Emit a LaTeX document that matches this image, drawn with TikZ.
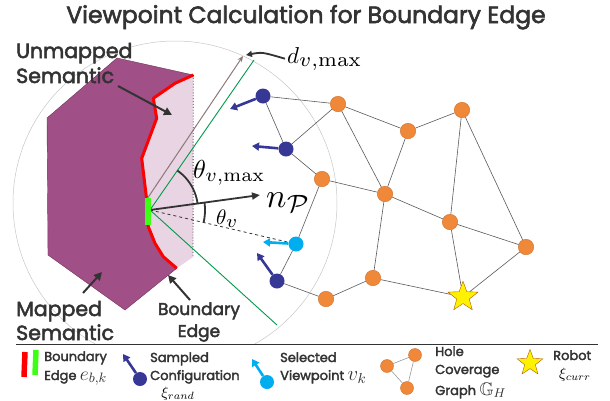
\RequirePackage{fix-cm}
\documentclass[tikz,border=0pt]{standalone}
\usepackage[no-math]{fontspec}
\setmainfont{Poppins}
\newfontfamily\heavy{Poppins}[FakeBold=2.5]
\usepackage{amssymb}
\usepackage{graphicx}
\usetikzlibrary{arrows.meta,shapes.geometric}
\definecolor{purp}{RGB}{161,79,135}
\definecolor{purpedge}{RGB}{110,50,90}
\definecolor{pinkl}{RGB}{232,212,226}
\definecolor{grn}{RGB}{0,155,75}
\definecolor{lgrn}{RGB}{60,255,20}
\definecolor{brn}{RGB}{140,120,118}
\definecolor{orng}{RGB}{240,136,58}
\definecolor{orngedge}{RGB}{210,110,40}
\definecolor{dblue}{RGB}{55,55,150}
\definecolor{lblue}{RGB}{0,174,239}
\definecolor{ystar}{RGB}{255,242,0}
\definecolor{txt}{RGB}{51,51,51}
\tikzset{
 onode/.style={circle, fill=orng, draw=orngedge, line width=0.4pt, minimum size=15.5pt, inner sep=0},
 bnode/.style={circle, fill=dblue, minimum size=15pt, inner sep=0},
 lbnode/.style={circle, fill=lblue, minimum size=15pt, inner sep=0},
 gedge/.style={draw=black!65, line width=0.6pt},
 samparrow/.style={dblue, line width=2.6pt, -{Triangle[length=7pt,width=8pt]}},
 selarrow/.style={lblue, line width=2.6pt, -{Triangle[length=7pt,width=8pt]}},
 lblarrow/.style={txt, line width=2pt, -{Triangle[length=8pt,width=8pt]}},
 lbl/.style={text=txt, font=\heavy\fontsize{20.5}{24}\selectfont, inner sep=0, anchor=base west},
 leg/.style={text=txt, font=\heavy\fontsize{13}{15}\selectfont, inner sep=0, anchor=base west},
 mth/.style={text=black, inner sep=0, anchor=base west},
 starnode/.style={star, star points=5, star point ratio=2.4, fill=ystar, draw=orange!70!black, line width=0.4pt, inner sep=0},
}
\begin{document}
\begin{tikzpicture}[x=1pt,y=-1pt]
\useasboundingbox (0,0) rectangle (610,400);
\node[text=txt, font=\heavy\fontsize{23.5}{26}\selectfont, inner sep=0, anchor=base] (title) at (306,23) {Viewpoint Calculation for Boundary Edge};

% range circle
\begin{scope}
\clip (0,0) rectangle (610,344);
\draw[black!22, line width=0.5pt] (175,203) circle[radius=162];
\end{scope}

% unmapped region
\fill[pinkl] (193.3,75) -- (175,83.3) -- (153.3,98.3) -- (156.7,118.3) -- (141.7,158.3) -- (146.7,200) -- (148.3,226.7) -- (155,243.3) -- (163.3,256.7) -- (176.7,268.3) -- (193,257) -- cycle;
% mapped region
\filldraw[fill=purp, draw=purpedge, line width=0.4pt] (117,58) -- (193.3,75) -- (175,83.3) -- (153.3,98.3) -- (156.7,118.3) -- (141.7,158.3) -- (146.7,200) -- (148.3,226.7) -- (155,243.3) -- (163.3,256.7) -- (176.7,268.3) -- (125,310) -- (48,255) -- (47,118) -- cycle;
\draw[red, line width=3pt, line join=round] (193.3,75) -- (175,83.3) -- (153.3,98.3) -- (156.7,118.3) -- (141.7,158.3) -- (146.7,200) -- (148.3,226.7) -- (155,243.3) -- (163.3,256.7) -- (176.7,268.3);
\draw[black!75, dotted, line width=0.9pt] (193.3,75) -- (193,257);

% graph nodes
\node[bnode] (b1) at (263,96) {};
\node[bnode] (b2) at (286,149) {};
\node[bnode] (b3) at (277,281) {};
\node[lbnode] (lb) at (296,244) {};
\node[onode] (o1) at (338,104) {};
\node[onode] (o2) at (408,131) {};
\node[onode] (o3) at (462,110) {};
\node[onode] (o4) at (322,179) {};
\node[onode] (o5) at (385,194) {};
\node[onode] (o6) at (450,222) {};
\node[onode] (o7) at (526,247) {};
\node[onode] (o8) at (373,278) {};
\node[onode] (o9) at (326,299) {};
\node[starnode, minimum size=31.5pt] (st) at (463,297) {};

\foreach \a/\b in {b1/o1, b1/b2, b2/o1, b2/o4, o1/o2, o1/o5, o2/o3, o2/o5, o3/o6, o3/o7, o4/o5, o4/lb, lb/b3, b3/o9, o5/o6, o5/o8, o6/o7, o6/st, o7/st, o8/o9, o8/st}
  \draw[gedge] (\a) -- (\b);

% rays from the boundary edge
\coordinate (O) at (150,210);
\coordinate (G1) at (254,60);
\coordinate (G2) at (277,325);
\coordinate (Dbase) at (147,199);
\coordinate (Dtip) at (243,56);
\coordinate (Ntip) at (260,195);
\draw[grn, line width=0.9pt] (G1) -- (O) -- (G2);
\draw[brn, line width=1pt, -{Stealth[length=6pt,width=5pt]}] (Dbase) -- (Dtip);
\draw[txt, dashed, line width=0.8pt] (O) -- (lb);
\draw[txt, line width=1.8pt, -{Triangle[length=8pt,width=7pt]}] (O) -- (Ntip);
\draw[txt, line width=1.8pt] plot[domain=-55.3:-7.8, samples=25] ({150+48*cos(\x)},{210+48*sin(\x)});
\draw[txt, line width=1.8pt] plot[domain=-7.8:13.1, samples=20] ({150+55*cos(\x)},{210+55*sin(\x)});
\fill[lgrn] (145,198) rectangle (151,225);

% sampled / selected arrows
\coordinate (b1t) at (230,109);
\coordinate (b2t) at (252,146);
\coordinate (lbt) at (263,242);
\coordinate (b3t) at (257,253);
\draw[samparrow] (b1) -- (b1t);
\draw[samparrow] (b2) -- (b2t);
\draw[selarrow] (lb) -- (lbt);
\draw[samparrow] (b3) -- (b3t);

% math labels
\node[mth] (thmax) at (193,178) {\scalebox{2.6}{$\theta_{\scalebox{1.05}{$\scriptstyle v,\max$}}$}};
\node[mth] (np) at (266,207) {\scalebox{3.4}{$n_{\scalebox{1.05}{$\scriptstyle\mathcal{P}$}}$}};
\node[mth] (thv) at (216,224) {\scalebox{2.1}{$\theta_{\scalebox{1.25}{$\scriptstyle v$}}$}};
\node[mth] (dl) at (287,63) {\scalebox{2.3}{$d_{\scalebox{1.25}{$\scriptstyle v,\max$}}$}};
\coordinate (dtip2) at (246,55);
\draw[txt, line width=1.8pt, -{Triangle[length=6pt,width=6pt]}] ([xshift=-2pt]dl.west) .. controls (262,52) .. (dtip2);

% region labels
\node[lbl] (um1) at (16,58) {Unmapped};
\node[lbl] (um2) at (16,83) {Semantic};
\coordinate (umt) at (172,115);
\draw[lblarrow] (118,86) -- (umt);
\node[lbl] (m1) at (16,316) {Mapped};
\node[lbl] (m2) at (16,340) {Semantic};
\coordinate (mt) at (102,272);
\draw[lblarrow] (83,293) -- (mt);
\node[text=txt, font=\heavy\fontsize{17}{20}\selectfont, inner sep=0, anchor=base] (be1) at (199,315) {Boundary};
\node[text=txt, font=\heavy\fontsize{17}{20}\selectfont, inner sep=0, anchor=base] (be2) at (199,337) {Edge};
\coordinate (bet) at (168,275);
\draw[lblarrow] (190,300) -- (bet);

% legend
\draw[txt, line width=1pt] (16,344) -- (598,344);
\draw[red, line width=5.5pt] (25,352) -- (24,377);
\draw[lgrn, line width=5.5pt] (36,350) -- (35,375);
\node[leg] (l1a) at (44,361) {Boundary};
\node[leg] (l1b) at (44,380) {Edge \scalebox{1.5}{$e_{b,k}$}};

\node[bnode, minimum size=14pt] (lsb) at (140,379) {};
\coordinate (lsbt) at (123,354);
\draw[samparrow] (lsb) -- (lsbt);
\node[leg] (l2a) at (150,362) {Sampled};
\node[leg] (l2b) at (150,380) {Configuration};
\node[text=black, inner sep=0, anchor=base] (l2c) at (178,397) {\scalebox{1.5}{$\xi_{rand}$}};

\node[lbnode, minimum size=14pt] (llb) at (267,382) {};
\coordinate (llbt) at (252,359);
\draw[selarrow] (llb) -- (llbt);
\node[leg] (l3a) at (280,362) {Selected};
\node[leg] (l3b) at (280,380) {Viewpoint \scalebox{1.6}{$v_{k}$}};

\node[onode, minimum size=13pt] (g1) at (387,366) {};
\node[onode, minimum size=13pt] (g2) at (415,355) {};
\node[onode, minimum size=13pt] (g3) at (407,388) {};
\draw[gedge, black!40] (g1) -- (g2);
\draw[gedge, black!40] (g2) -- (g3);
\draw[gedge, black!40] (g3) -- (g1);
\node[leg] (l4a) at (435,356) {Hole};
\node[leg] (l4b) at (435,374) {Coverage};
\node[leg] (l4c) at (435,395) {Graph \scalebox{1.4}{$\mathbb{G}_{H}$}};

\node[starnode, minimum size=27pt] (lst) at (530,363) {};
\node[leg] (l5a) at (553,360) {Robot};
\node[text=black, inner sep=0, anchor=base] (l5b) at (575,378) {\scalebox{1.5}{$\xi_{curr}$}};
\end{tikzpicture}
\end{document}
